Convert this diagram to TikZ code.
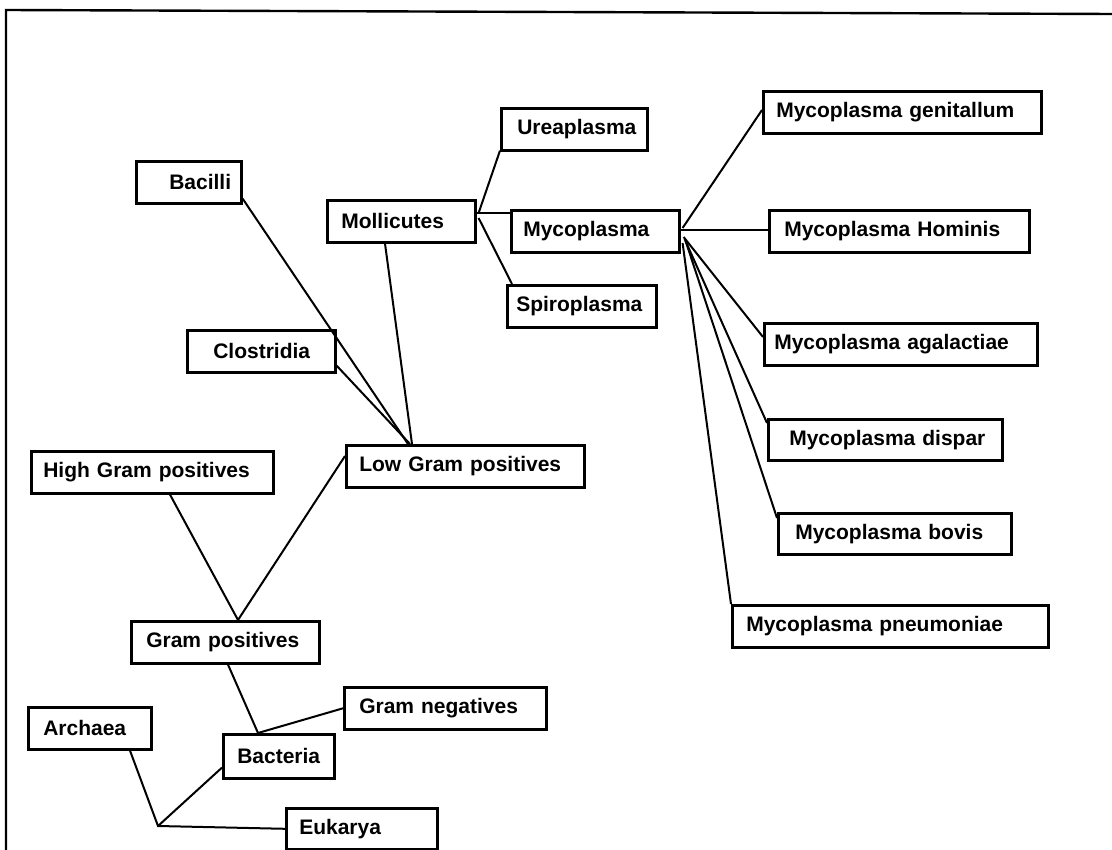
\documentclass[tikz,border=0pt]{standalone}
\usepackage{fontspec}
\setmainfont{Liberation Sans}
\usetikzlibrary{calc}
\begin{document}
\begin{tikzpicture}[x=1pt,y=-1pt,
  box/.style={draw, line width=2.6pt, minimum height=42pt, inner xsep=0pt, inner ysep=0pt,
    anchor=north west, align=left, font=\bfseries\fontsize{21}{23}\selectfont},
  con/.style={line width=2pt},
  frame/.style={line width=2.4pt}]
\useasboundingbox (0,0) rectangle (1112,850);
\draw[frame] (6,850) -- (6,10) -- (1112,14);
% nodes
\node[box,text width=146pt] (ure) at (500,107) {\hspace*{16pt}Ureaplasma};
\node[box,text width=105pt] (bac) at (135,160) {\hspace*{33pt}Bacilli};
\node[box,text width=148pt] (mol) at (326,199) {\hspace*{14pt}Mollicutes};
\node[box,text width=168pt] (myc) at (510,209) {\hspace*{12pt}Mycoplasma};
\node[box,text width=149pt] (spi) at (506,284) {\hspace*{9pt}Spiroplasma};
\node[box,text width=148pt] (clo) at (186,329) {\hspace*{26pt}Clostridia};
\node[box,text width=238pt] (low) at (345,444) {\hspace*{13pt}Low Gram positives};
\node[box,text width=242pt] (high) at (30,450) {\hspace*{12pt}High Gram positives};
\node[box,text width=188pt] (gp) at (130,620) {\hspace*{15pt}Gram positives};
\node[box,text width=202pt] (gn) at (343,686) {\hspace*{15pt}Gram negatives};
\node[box,text width=123pt] (arc) at (27,706) {\hspace*{15pt}Archaea};
\node[box,text width=111pt,minimum height=44pt] (bact) at (222,733) {\hspace*{14pt}Bacteria};
\node[box,text width=151pt,minimum height=41pt] (euk) at (285,807) {\hspace*{13pt}Eukarya};
\node[box,text width=278pt] (mg) at (762,90) {\hspace*{13pt}Mycoplasma genitallum};
\node[box,text width=260pt] (mh) at (768,209) {\hspace*{15pt}Mycoplasma Hominis};
\node[box,text width=273pt] (ma) at (763,322) {\hspace*{10pt}Mycoplasma agalactiae};
\node[box,text width=234pt,minimum height=41pt] (md) at (767,418) {\hspace*{21pt}Mycoplasma dispar};
\node[box,text width=233pt,minimum height=41pt] (mb) at (777,512) {\hspace*{17pt}Mycoplasma bovis};
\node[box,text width=316pt] (mp) at (731,604) {\hspace*{14pt}Mycoplasma pneumoniae};
% junction
\coordinate (j1) at (158,826);
% connectors
\draw[con] ($(arc.south west)+(103,0)$) -- (j1) -- (euk.west);
\draw[con] (j1) -- ($(bact.south west)+(0,-12)$);
\draw[con] ($(bact.north west)+(36,0)$) -- ($(gp.south west)+(98,0)$);
\draw[con] ($(bact.north west)+(36,0)$) -- (gn.west);
\draw[con] ($(gp.north west)+(108,0)$) -- ($(high.south west)+(140,0)$);
\draw[con] ($(gp.north west)+(108,0)$) -- ($(low.north west)+(0,12)$);
\draw[con] ($(low.north west)+(63,0)$) -- ($(bac.south east)+(0,-6)$);
\draw[con] ($(low.north west)+(65,0)$) -- ($(clo.south east)+(0,-8)$);
\draw[con] ($(low.north west)+(67,0)$) -- ($(mol.south west)+(59,0)$);
\draw[con] ($(mol.north east)+(2,14)$) -- ($(ure.south west)+(0,-1)$);
\draw[con] ($(mol.north east)+(0,14)$) -- ($(myc.north west)+(0,4)$);
\draw[con] ($(mol.north east)+(2,19)$) -- ($(spi.north west)+(6,0)$);
\draw[con] ($(myc.north east)+(2,19)$) -- ($(mg.north west)+(0,20)$);
\draw[con] ($(myc.north east)+(0,21)$) -- ($(mh.north west)+(0,21)$);
\draw[con] ($(myc.north east)+(3,28)$) -- ($(ma.north west)+(0,15)$);
\draw[con] ($(myc.north east)+(4,30)$) -- ($(md.north west)+(0,5)$);
\draw[con] ($(myc.north east)+(5,32)$) -- ($(mb.north west)+(0,6)$);
\draw[con] ($(myc.north east)+(2,34)$) -- (mp.north west);
\end{tikzpicture}
\end{document}
